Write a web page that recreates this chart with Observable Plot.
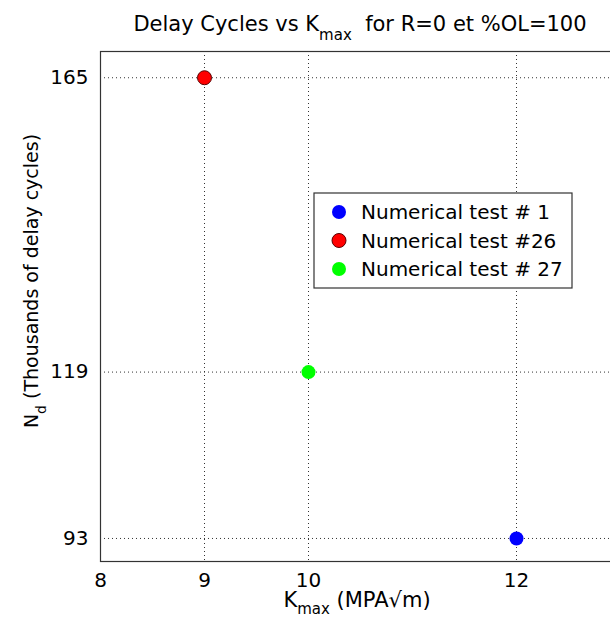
<!DOCTYPE html>
<html><head><meta charset="utf-8">
<script src="https://cdn.jsdelivr.net/npm/d3@7"></script>
<script src="https://cdn.jsdelivr.net/npm/@observablehq/plot@0.6"></script>
<style>html,body{margin:0;padding:0;overflow:hidden;background:#fff}#chart{width:610px;height:621px;overflow:hidden;position:relative}#chart svg{max-width:none!important;width:620px;height:621px}</style>
</head><body><div id="chart"></div>
<script>
const tests = ["Numerical test # 1", "Numerical test #26", "Numerical test # 27"];
const kmax = [12, 9, 10];
const delay = [93, 165, 119];
const colors = ["#0000ff", "#ff0000", "#00ff00"];
const xTicks = [8, 9, 10, 12];
const yTicks = [93, 119, 165];
const xDomain = [8, 13];
const yDomain = [89.4, 169.1];

const data = tests.map((t, i) => ({test: t, k: kmax[i], n: delay[i]}));
const font = "'DejaVu Sans', sans-serif";
const fs = 20;
const grid = {stroke: "#333", strokeDasharray: "1,3", strokeWidth: 1};

const plot = Plot.plot({
  width: 620, height: 621,
  marginLeft: 100, marginRight: 0, marginTop: 51, marginBottom: 60,
  style: {fontFamily: font, background: "#fff", overflow: "visible"},
  x: {domain: xDomain},
  y: {domain: yDomain},
  color: {domain: tests, range: colors},
  marks: [
    Plot.ruleX(xTicks, grid),
    Plot.ruleY(yTicks, grid),
    Plot.frame({stroke: "#333", strokeWidth: 1.2}),
    Plot.axisX({ticks: xTicks, tickSize: 0, tickPadding: 11, fontSize: fs, label: null, tickFormat: d => String(d), fill: "#000"}),
    Plot.axisY({ticks: yTicks, tickSize: 0, tickPadding: 12, fontSize: fs, label: null, tickFormat: d => String(d), fill: "#000"}),
    Plot.dot(data, {x: "k", y: "n", fill: "test", r: 7}),
    Plot.dot(data.filter(d => d.k === 9), {x: "k", y: "n", stroke: "#5a0000", strokeWidth: 1, r: 7})
  ]
});
document.getElementById("chart").appendChild(plot);

const svg = d3.select(plot);
// Title
const title = svg.append("text").attr("x", 360).attr("y", 31).attr("text-anchor", "middle")
  .attr("font-family", font).attr("font-size", 21).attr("fill", "#000");
title.append("tspan").text("Delay Cycles vs K");
title.append("tspan").attr("font-size", 15).attr("dy", 9).text("max");
title.append("tspan").attr("dy", -9).text("\u00a0\u00a0for R=0 et %OL=100");

// X label
const xl = svg.append("text").attr("x", 357).attr("y", 607).attr("text-anchor", "middle")
  .attr("font-family", font).attr("font-size", 21).attr("fill", "#000");
xl.append("tspan").text("K");
xl.append("tspan").attr("font-size", 15).attr("dy", 7).text("max");
xl.append("tspan").attr("dy", -7).text(" (MPA\u221am)");

// Y label
const yl = svg.append("text").attr("transform", "translate(38,281) rotate(-90)").attr("text-anchor", "middle")
  .attr("font-family", font).attr("font-size", 19).attr("fill", "#000");
yl.append("tspan").text("N");
yl.append("tspan").attr("font-size", 14).attr("dy", 8).text("d");
yl.append("tspan").attr("dy", -8).text(" (Thousands of delay cycles)");

// Legend
const lg = svg.append("g").attr("transform", "translate(314,193)");
lg.append("rect").attr("width", 258).attr("height", 95).attr("fill", "#fff").attr("stroke", "#333").attr("stroke-width", 1.2);
tests.forEach((t, i) => {
  const y = 19 + i * 28.5;
  lg.append("circle").attr("cx", 25).attr("cy", y).attr("r", 7).attr("fill", colors[i])
    .attr("stroke", i === 1 ? "#5a0000" : "none");
  lg.append("text").attr("x", 47).attr("y", y).attr("dy", "0.36em").attr("text-anchor", "start")
    .attr("font-family", font).attr("font-size", fs).attr("fill", "#000").text(t);
});
</script>
</body></html>
